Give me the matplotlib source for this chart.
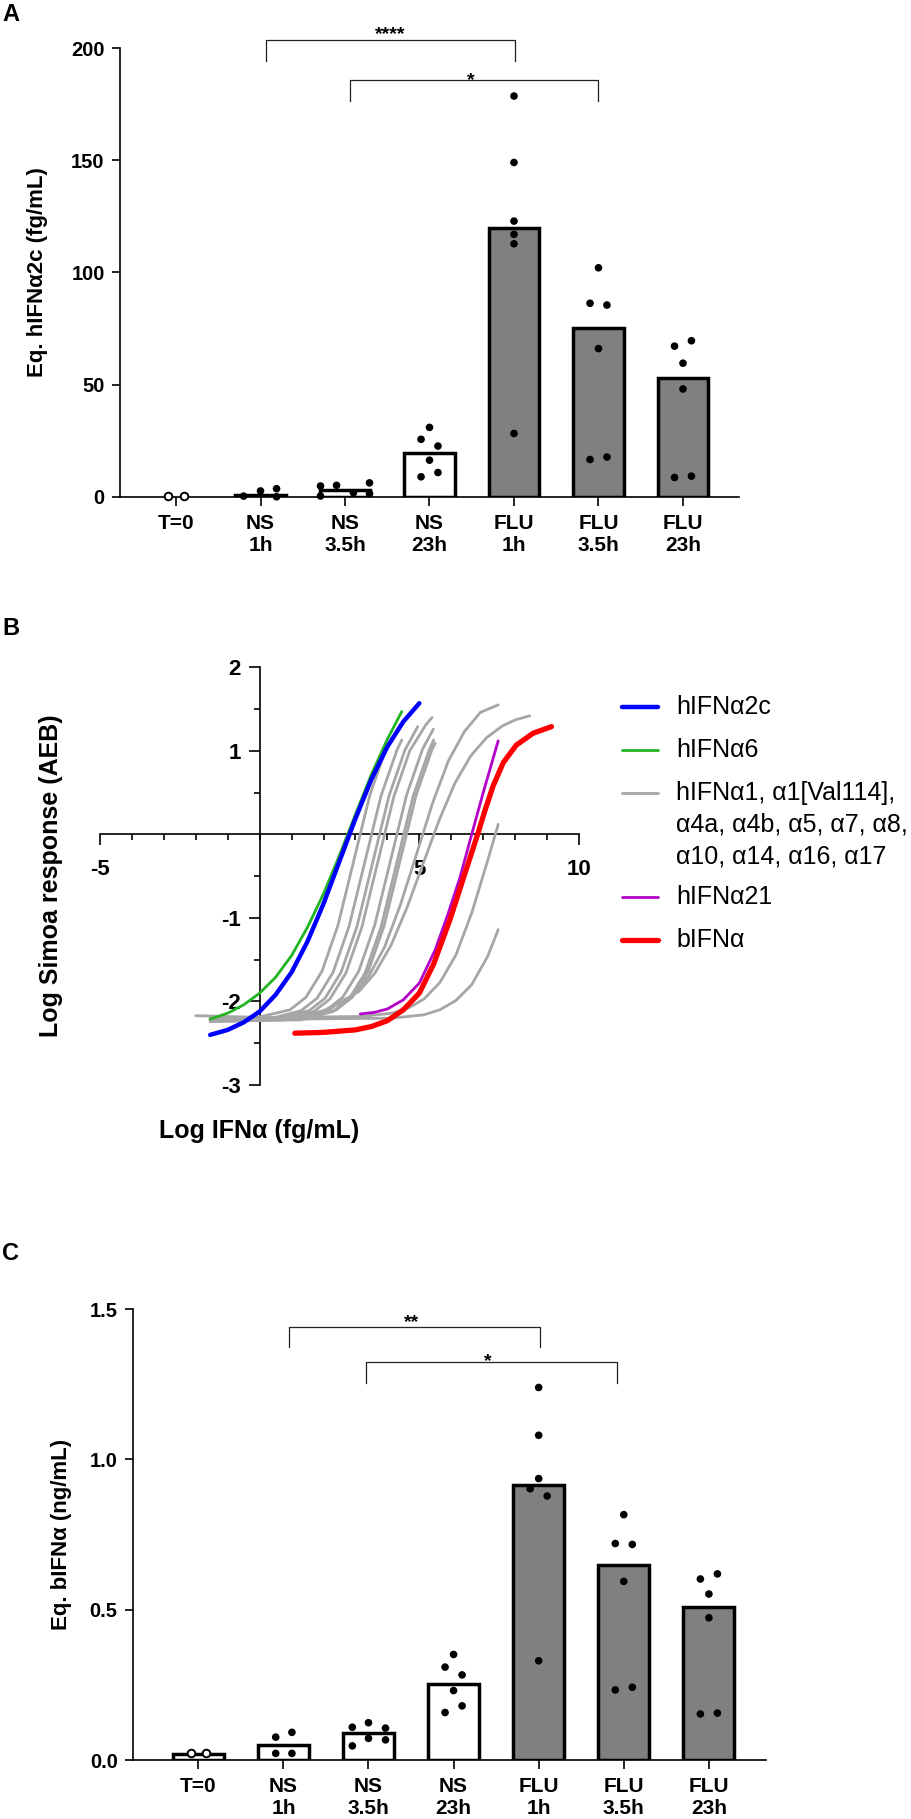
import numpy as np
import matplotlib
matplotlib.use("Agg")
import matplotlib.pyplot as plt
from matplotlib.ticker import FormatStrFormatter
from matplotlib.lines import Line2D

plt.rcParams['font.family'] = ['Liberation Sans', 'DejaVu Sans']
plt.rcParams['font.weight'] = 'bold'
plt.rcParams['axes.unicode_minus'] = False

W, H = 912, 1819

# ---------------- data ----------------
categories = ["T=0", "NS\n1h", "NS\n3.5h", "NS\n23h", "FLU\n1h", "FLU\n3.5h", "FLU\n23h"]

# Panel A: Eq. hIFNa2c (fg/mL)  (T=0 bar not visible in the reference)
a_bars = [np.nan, 1.0, 3.3, 19.4, 119.7, 75.3, 52.8]
a_t0 = [0.4, 0.4]
a_ns1 = [0.4, 2.7, 3.7, 0.1]
a_ns35 = [4.9, 0.45, 5.2, 1.9, 6.3, 1.5]
a_ns23 = [31.0, 25.7, 22.7, 16.4, 9.0, 10.9]
a_flu1 = [178.6, 149.0, 122.9, 117.0, 112.8, 28.3]
a_flu35 = [102.1, 86.3, 85.5, 66.1, 16.7, 17.8]
a_flu23 = [69.6, 67.2, 59.6, 48.1, 8.7, 9.3]

# Panel C: Eq. bIFNa (ng/mL)
c_bars = [0.02, 0.05, 0.089, 0.253, 0.914, 0.650, 0.508]
c_t0 = [0.022, 0.022]
c_ns1 = [0.076, 0.092, 0.022, 0.022]
c_ns35 = [0.109, 0.124, 0.106, 0.047, 0.072, 0.067]
c_ns23 = [0.351, 0.309, 0.283, 0.231, 0.180, 0.158]
c_flu1 = [1.239, 1.080, 0.936, 0.902, 0.878, 0.330]
c_flu35 = [0.816, 0.720, 0.717, 0.594, 0.233, 0.242]
c_flu23 = [0.602, 0.619, 0.552, 0.473, 0.153, 0.156]

# significance annotations
a_sig_labels = ["****", "*"]
c_sig_labels = ["**", "*"]

# Panel B: standard curves (log IFN vs log Simoa response)
blue_x = [-1.55, -1.0, -0.5, 0.0, 0.5, 1.0, 1.5, 2.0, 2.5, 3.0, 3.5, 4.0, 4.5, 5.0]
blue_y = [-2.40, -2.34, -2.25, -2.12, -1.92, -1.65, -1.28, -0.83, -0.32, 0.19, 0.66, 1.05, 1.35, 1.57]
green_x = [-1.55, -1.0, -0.5, 0.0, 0.5, 1.0, 1.5, 2.0, 2.5, 3.0, 3.5, 4.0, 4.45]
green_y = [-2.21, -2.14, -2.04, -1.90, -1.71, -1.45, -1.11, -0.71, -0.25, 0.24, 0.72, 1.14, 1.47]
red_x = [1.1, 2.0, 3.0, 3.5, 4.0, 4.5, 5.0, 5.45, 5.96, 6.4, 6.85, 7.05, 7.31, 7.63, 8.04, 8.56, 9.14]
red_y = [-2.38, -2.37, -2.34, -2.30, -2.23, -2.10, -1.90, -1.55, -1.02, -0.50, 0.03, 0.28, 0.58, 0.86, 1.07, 1.21, 1.29]
magenta_x = [3.15, 3.6, 4.0, 4.5, 5.0, 5.5, 5.9, 6.27, 6.64, 7.0, 7.47]
magenta_y = [-2.15, -2.13, -2.09, -1.98, -1.78, -1.38, -0.95, -0.52, 0.0, 0.5, 1.12]
grey_x = [
    [-2.0, -0.05, 0.95, 1.45, 1.95, 2.45, 2.95, 3.45, 3.95, 4.4],
    [-1.55, 0.3, 1.3, 1.8, 2.3, 2.8, 3.3, 3.8, 4.3, 4.45],
    [-1.55, 0.55, 1.55, 2.05, 2.55, 3.05, 3.55, 4.05, 4.55, 4.95],
    [-1.55, 0.7, 1.7, 2.2, 2.7, 3.2, 3.7, 4.2, 4.7, 5.2, 5.4],
    [-1.55, 1.1, 2.1, 2.6, 3.1, 3.6, 4.1, 4.6, 5.1, 5.44],
    [-1.55, 1.3, 2.3, 2.8, 3.3, 3.8, 4.3, 4.8, 5.3, 5.45],
    [-1.55, 1.4, 2.4, 2.9, 3.4, 3.9, 4.4, 4.9, 5.4, 5.5],
    [-1.55, 0.91, 1.91, 2.91, 3.41, 3.91, 4.41, 4.91, 5.41, 5.91, 6.41, 6.91, 7.47],
    [-1.55, 1.11, 2.11, 3.11, 3.61, 4.11, 4.61, 5.11, 5.61, 6.11, 6.61, 7.11, 7.61, 8.0, 8.46],
    [-1.55, 3.15, 4.15, 4.65, 5.15, 5.65, 6.15, 6.65, 7.15, 7.47],
    [-1.55, 4.14, 5.14, 5.64, 6.14, 6.64, 7.14, 7.47],
]
grey_y = [
    [-2.17, -2.19, -2.10, -1.95, -1.64, -1.09, -0.31, 0.47, 1.02, 1.31],
    [-2.22, -2.21, -2.11, -1.96, -1.65, -1.10, -0.32, 0.46, 1.01, 1.13],
    [-2.23, -2.21, -2.11, -1.96, -1.65, -1.10, -0.32, 0.46, 1.01, 1.29],
    [-2.24, -2.22, -2.12, -1.97, -1.66, -1.11, -0.33, 0.45, 1.00, 1.31, 1.40],
    [-2.22, -2.20, -2.10, -1.95, -1.64, -1.09, -0.31, 0.47, 1.02, 1.26],
    [-2.24, -2.22, -2.12, -1.97, -1.66, -1.11, -0.33, 0.45, 1.00, 1.13],
    [-2.21, -2.20, -2.10, -1.95, -1.64, -1.09, -0.31, 0.47, 1.02, 1.09],
    [-2.22, -2.20, -2.13, -1.93, -1.70, -1.35, -0.84, -0.24, 0.37, 0.88, 1.23, 1.46, 1.55],
    [-2.22, -2.18, -2.11, -1.88, -1.66, -1.33, -0.88, -0.36, 0.16, 0.61, 0.94, 1.16, 1.30, 1.37, 1.42],
    [-2.20, -2.18, -2.14, -2.08, -1.97, -1.77, -1.44, -0.93, -0.30, 0.12],
    [-2.22, -2.20, -2.16, -2.10, -1.99, -1.80, -1.46, -1.14],
]
legend_labels = ["hIFNα2c", "hIFNα6",
                 "hIFNα1, α1[Val114],\nα4a, α4b, α5, α7, α8,\nα10, α14, α16, α17",
                 "hIFNα21", "bIFNα"]

# ---------------- layout / style ----------------
bar_fill = ["white"] * 4 + ["#808080"] * 3
jit_a = [[-0.1, 0.1],
         [-0.2, 0.0, 0.19, 0.19],
         [-0.29, -0.29, -0.1, 0.1, 0.29, 0.29],
         [0.0, -0.1, 0.1, 0.0, -0.1, 0.1],
         [0.0, 0.0, 0.0, 0.0, 0.0, 0.0],
         [0.0, -0.1, 0.1, 0.0, -0.1, 0.1],
         [0.1, -0.1, 0.0, 0.0, -0.1, 0.1]]
jit_c = [[-0.09, 0.09],
         [-0.09, 0.1, -0.09, 0.1],
         [-0.19, 0.0, 0.2, -0.19, 0.0, 0.2],
         [0.0, -0.1, 0.1, 0.0, 0.1, -0.1],
         [0.0, 0.0, 0.0, -0.1, 0.1, 0.0],
         [0.0, -0.1, 0.1, 0.0, -0.1, 0.1],
         [-0.1, 0.1, 0.0, 0.0, -0.1, 0.1]]

# bracket geometry (category coordinates / data units)
a_brk = dict(x1=[1.07, 2.06], x2=[4.01, 5.0], top=[203.6, 185.7], leg=[194.0, 176.3],
             sx=[2.53, 3.49], sy=[203.8, 183.3])
c_brk = dict(x1=[1.07, 1.97], x2=[4.01, 4.92], top=[1.441, 1.324], leg=[1.372, 1.253],
             sx=[2.51, 3.40], sy=[1.440, 1.309])

fig = plt.figure(figsize=(W / 100, H / 100), dpi=100)


def frac_rect(left, right, top, bottom):
    return [left / W, 1 - bottom / H, (right - left) / W, (bottom - top) / H]


def bar_panel(rect, xlim, ylim, yticks, yfmt, bars, groups, jits, brk, sig):
    ax = fig.add_axes(rect)
    xpos = np.arange(len(categories))
    ax.bar(xpos, bars, width=0.6, color=bar_fill, edgecolor='black',
           linewidth=2.5, zorder=2)
    for i, (vals, offs) in enumerate(zip(groups, jits)):
        xs = xpos[i] + np.asarray(offs)
        if i == 0:
            ax.scatter(xs, vals, s=30, facecolors='white', edgecolors='black',
                       linewidths=1.4, zorder=4, clip_on=False)
        else:
            ax.scatter(xs, vals, s=30, facecolors='black', edgecolors='none',
                       zorder=4, clip_on=False)
    ax.set_xlim(*xlim)
    ax.set_ylim(*ylim)
    ax.set_xticks(xpos)
    ax.set_xticklabels(categories, fontsize=15)
    ax.set_yticks(yticks)
    ax.yaxis.set_major_formatter(FormatStrFormatter(yfmt))
    for s in ['top', 'right']:
        ax.spines[s].set_visible(False)
    for s in ['left', 'bottom']:
        ax.spines[s].set_linewidth(1.2)
    ax.tick_params(axis='x', length=6.5, width=1.2, pad=5.5)
    ax.tick_params(axis='y', length=6, width=1.2, pad=5, labelsize=14.5)
    for k in range(len(sig)):
        x1, x2, yt, yl = brk['x1'][k], brk['x2'][k], brk['top'][k], brk['leg'][k]
        ax.plot([x1, x1, x2, x2], [yl, yt, yt, yl], color='#222222', lw=0.9,
                clip_on=False, zorder=5)
        ax.text(brk['sx'][k], brk['sy'][k], sig[k], ha='center', va='baseline',
                fontsize=14, fontweight='bold', clip_on=False)
    return ax


# ---------------- Panel A ----------------
axA = bar_panel(frac_rect(120, 739, 48, 497), (-0.663, 6.663), (0, 200),
                [0, 50, 100, 150, 200], '%d', a_bars,
                [a_t0, a_ns1, a_ns35, a_ns23, a_flu1, a_flu35, a_flu23], jit_a,
                a_brk, a_sig_labels)
fig.text(37.3 / W, 1 - 272.5 / H, "Eq. hIFNα2c (fg/mL)", rotation=90,
         ha='center', va='center', fontsize=16, fontweight='bold')
fig.text(2 / W, 1 - 3 / H, "A", ha='left', va='top', fontsize=17, fontweight='bold')

# ---------------- Panel C ----------------
axC = bar_panel(frac_rect(133, 766, 1309, 1760), (-0.767, 6.671), (0, 1.5),
                [0.0, 0.5, 1.0, 1.5], '%.1f', c_bars,
                [c_t0, c_ns1, c_ns35, c_ns23, c_flu1, c_flu35, c_flu23], jit_c,
                c_brk, c_sig_labels)
fig.text(62 / W, 1 - 1534.5 / H, "Eq. bIFNα (ng/mL)", rotation=90,
         ha='center', va='center', fontsize=16, fontweight='bold')
fig.text(2 / W, 1 - 1242 / H, "C", ha='left', va='top', fontsize=17, fontweight='bold')

# ---------------- Panel B ----------------
axB = fig.add_axes(frac_rect(100, 579, 667.3, 1085))
axB.patch.set_visible(False)
axB.set_xlim(-5, 10)
axB.set_ylim(-3, 2)
axB.spines['left'].set_position(('data', 0))
axB.spines['bottom'].set_position(('data', 0))
axB.spines['left'].set_bounds(-3, 2)
axB.spines['bottom'].set_bounds(-5, 10)
for s in ['top', 'right']:
    axB.spines[s].set_visible(False)
for s in ['left', 'bottom']:
    axB.spines[s].set_linewidth(1.2)
    axB.spines[s].set_zorder(1.6)
axB.set_xticks([-5, 5, 10])
axB.set_xticks([-4, -3, -2, -1, 0, 1, 2, 3, 4, 6, 7, 8, 9], minor=True)
axB.set_yticks([-3, -2, -1, 1, 2])
axB.set_yticks([-2.5, -1.5, -0.5, 0.5, 1.5], minor=True)
axB.tick_params(which='major', length=8, width=1.2, labelsize=16)
axB.tick_params(which='minor', length=4.3, width=1.2)
axB.tick_params(axis='x', which='major', pad=10)
axB.tick_params(axis='y', which='major', pad=5.5)

grey_c = '#A6A6A6'
blue_c = '#0000FF'
green_c = '#22B422'
magenta_c = '#B400C8'
red_c = '#FF0000'

for gx, gy in zip(grey_x, grey_y):
    axB.plot(gx, gy, color=grey_c, lw=2.0, solid_capstyle='round', zorder=2)
axB.plot(magenta_x, magenta_y, color=magenta_c, lw=2.0, solid_capstyle='round', zorder=3)
axB.plot(red_x, red_y, color=red_c, lw=3.8, solid_capstyle='round', zorder=3.2)
axB.plot(green_x, green_y, color=green_c, lw=2.0, solid_capstyle='round', zorder=3.4)
axB.plot(blue_x, blue_y, color=blue_c, lw=3.2, solid_capstyle='round', zorder=3.6)

fig.text(259.5 / W, 1 - 1131 / H, "Log IFNα (fg/mL)", ha='center', va='center',
         fontsize=18, fontweight='bold')
fig.text(50.8 / W, 1 - 876 / H, "Log Simoa response (AEB)", rotation=90,
         ha='center', va='center', fontsize=18, fontweight='bold')
fig.text(2 / W, 1 - 617 / H, "B", ha='left', va='top', fontsize=17, fontweight='bold')

# legend (manual, to align the grey handle with the first text line)
leg_colors = [blue_c, green_c, grey_c, magenta_c, red_c]
leg_widths = [3.2, 2.0, 2.0, 2.0, 3.8]
leg_y = [706.7, 750, 792.7, 896.7, 940]
for lab, col, lw_, yy in zip(legend_labels, leg_colors, leg_widths, leg_y):
    fig.add_artist(Line2D([621.7 / W, 658.3 / W], [1 - yy / H, 1 - yy / H],
                          transform=fig.transFigure, color=col, lw=lw_,
                          solid_capstyle='round'))
    for k, line in enumerate(lab.split("\n")):
        fig.text(676 / W, 1 - (yy + 32 * k) / H, line, ha='left', va='center',
                 fontsize=18, fontweight='normal')

fig.savefig("out.png", dpi=100)
